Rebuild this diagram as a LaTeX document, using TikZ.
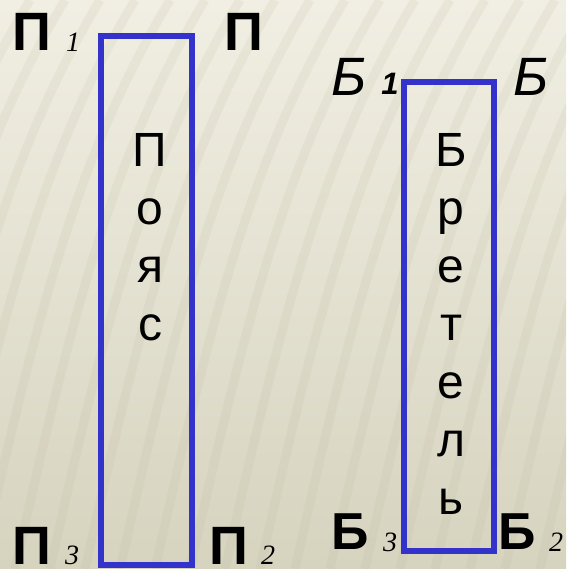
\documentclass[tikz,border=0pt]{standalone}
\usepackage{fontspec}
\setmainfont{Liberation Sans}
\newfontfamily\timesfont{Liberation Serif}
\usepackage{tikz}
\usetikzlibrary{positioning}
\definecolor{boxblue}{HTML}{3333CC}
\definecolor{bgtop}{HTML}{F1EFE3}
\definecolor{bgbot}{HTML}{D6D3BF}
\definecolor{stripe}{HTML}{B9B59C}
\tikzset{
  lbl/.style={ anchor=base, inner sep=0pt, font=\fontsize{54}{54}\selectfont\bfseries }
}
\tikzset{
  lblit/.style={ anchor=base, inner sep=0pt, font=\fontsize{54}{54}\selectfont\itshape }
}
\tikzset{
  idx/.style={ anchor=base, inner sep=0pt, font=\fontsize{28}{28}\selectfont\timesfont\itshape }
}
\tikzset{
  strap/.style={ draw=boxblue, line width=6pt, inner sep=0pt }
}
\tikzset{
  vword/.style={ anchor=north, inner sep=0pt, align=center, font=\fontsize{48}{58}\selectfont }
}
\begin{document}
\begin{tikzpicture}[x=1pt, y=-1pt]

      % background
      \useasboundingbox (0,0) rectangle (566,569);
      \fill[top color=bgtop, bottom color=bgbot] (0,0) rectangle (566,569);
      \begin{scope}
        \clip (0,0) rectangle (566,569);
        \foreach \i in {-300,-265,...,600}
          \draw[stripe, opacity=.14, line width=9pt] (\i,569) .. controls (\i+60,300) and (\i+100,150) .. (\i+190,0);
      \end{scope}

      \node[strap, minimum width=90.5pt, minimum height=529pt] (belt) at (146.25,300.5) {};
      \node[strap, minimum width=89.8pt, minimum height=468.5pt] (strapbox) at (448.6,316.25) {};

      \node[vword] (beltword) at (150,133) {П\\о\\я\\с};
      \node[vword] (strapword) at (451,133) {Б\\р\\е\\т\\е\\л\\ь};

      \node[lbl] (P1) at (32,51) {П};
      \node[idx] (P1n) at (73,52) {1};
      \node[lbl] (P4) at (244,51) {П};
      \node[lbl] (P3) at (32,564) {П};
      \node[idx] (P3n) at (72,564) {3};
      \node[lbl] (P2) at (229,564) {П};
      \node[idx] (P2n) at (268,564) {2};

      \node[lblit] (B1) at (349,96) {Б};
      \node[anchor=base, inner sep=0pt, font=\fontsize{31}{31}\selectfont\bfseries\itshape] (B1n) at (390,95) {1};
      \node[lblit] (B4) at (531,96) {Б};
      \node[lbl, font=\fontsize{52}{52}\selectfont\bfseries] (B3) at (350,549) {Б};
      \node[idx] (B3n) at (390,551) {3};
      \node[lbl, font=\fontsize{52}{52}\selectfont\bfseries] (B2) at (517,549) {Б};
      \node[idx] (B2n) at (556,551) {2};
    \end{tikzpicture}
\end{document}
